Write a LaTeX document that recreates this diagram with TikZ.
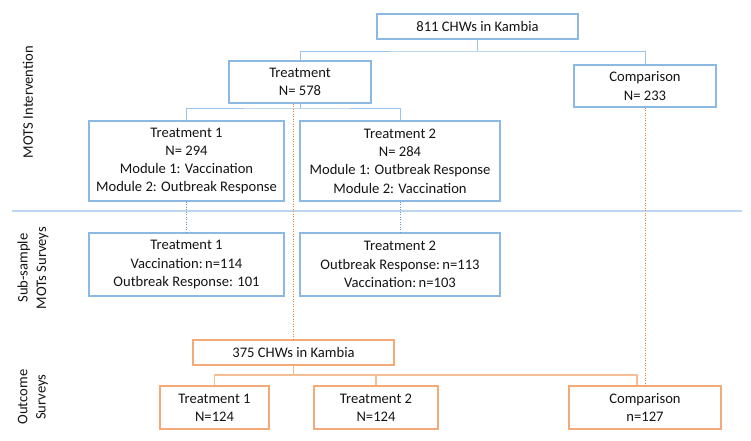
\documentclass[tikz,border=0pt]{standalone}
\usepackage{fontspec}
\setmainfont{Carlito}
\definecolor{bbox}{RGB}{140,185,228}
\definecolor{bline}{RGB}{157,195,230}
\definecolor{bdotc}{RGB}{91,155,213}
\definecolor{sepc}{RGB}{189,215,238}
\definecolor{obox}{RGB}{244,170,120}
\definecolor{oline}{RGB}{246,190,150}
\definecolor{odotc}{RGB}{237,125,49}
\definecolor{txt}{RGB}{20,20,20}
\begin{document}
\begin{tikzpicture}[x=1pt,y=-1pt,
  every node/.style={font=\fontsize{14.6}{18.3}\selectfont, text=txt},
  bluebox/.style={draw=bbox, line width=1.3pt, rectangle, inner sep=0pt, align=center},
  orangebox/.style={draw=obox, line width=1.5pt, rectangle, inner sep=0pt, align=center},
  blink/.style={draw=bline, line width=1pt},
  olink/.style={draw=oline, line width=1.2pt},
  bdot/.style={draw=bdotc, line width=0.6pt, dash pattern=on 1pt off 1.5pt},
  odot/.style={draw=odotc, line width=0.6pt, dash pattern=on 1pt off 1.5pt},
  sidelabel/.style={rotate=90, align=center, anchor=center}
]
\useasboundingbox (0,0) rectangle (751,440);

% top row
\node[bluebox, minimum width=201pt, minimum height=25pt] (top) at (477.5,26.5) {811 CHWs in Kambia};
\node[bluebox, minimum width=142pt, minimum height=42pt] (trt) at (300,82) {Treatment\\N= 578};
\node[bluebox, minimum width=142pt, minimum height=42pt] (cmp) at (645,86) {Comparison\\N= 233};
\node[bluebox, minimum width=195pt, minimum height=80pt] (t1) at (186.5,161) {Treatment 1\\N= 294\\Module 1: Vaccination\\Module 2: Outbreak Response};
\node[bluebox, minimum width=200pt, minimum height=80pt] (t2) at (400,161) {Treatment 2\\N= 284\\Module 1: Outbreak Response\\Module 2: Vaccination};

% sub-sample
\node[bluebox, minimum width=195pt, minimum height=63pt] (s1) at (186.5,264.5) {Treatment 1\\Vaccination:\,n=114\\Outbreak Response: 101};
\node[bluebox, minimum width=200pt, minimum height=63pt] (s2) at (400,264.5) {Treatment 2\\Outbreak Response:\,n=113\\Vaccination:\,n=103};

% outcome
\node[orangebox, minimum width=201pt, minimum height=25pt] (o375) at (293.5,352.5) {375 CHWs in Kambia};
\node[orangebox, minimum width=109pt, minimum height=43pt] (o1) at (214.5,407.5) {Treatment 1\\N=124};
\node[orangebox, minimum width=124pt, minimum height=43pt] (o2) at (376,407.5) {Treatment 2\\N=124};
\node[orangebox, minimum width=152pt, minimum height=43pt] (oc) at (645,407.5) {Comparison\\n=127};

% side labels
\node[sidelabel] (lab1) at (28,102) {MOTS Intervention};
\node[sidelabel] (lab2) at (33,268) {Sub-sample\\MOTs Surveys};
\node[sidelabel] (lab3) at (33,397) {Outcome\\Surveys};

% separator
\draw[draw=sepc, line width=1.8pt] (12,211) -- (742,211);

% blue tree connectors
\coordinate (j1) at (top.south |- 0,51);
\draw[blink] (top.south) -- (j1);
\draw[blink] (trt.north) |- (j1) -| (cmp.north);
\coordinate (j2) at (trt.south |- 0,108);
\draw[blink] (trt.south) -- (j2);
\draw[blink] (t1.north) |- (j2) -| (t2.north);

% dotted links
\draw[bdot] (t1.south) -- (s1.north);
\draw[bdot] (t2.south) -- (s2.north);
\draw[odot] (o375.north |- trt.south) -- (o375.north);
\draw[odot] (cmp.south) -- (oc.north);

% orange tree connectors
\coordinate (j3) at (o375.south |- 0,375);
\draw[olink] (o375.south) -- (j3);
\draw[olink] (o1.north) |- (j3) -| (o2.north);
\draw[olink] (j3) -| ([xshift=-8pt]oc.north);
\end{tikzpicture}
\end{document}
